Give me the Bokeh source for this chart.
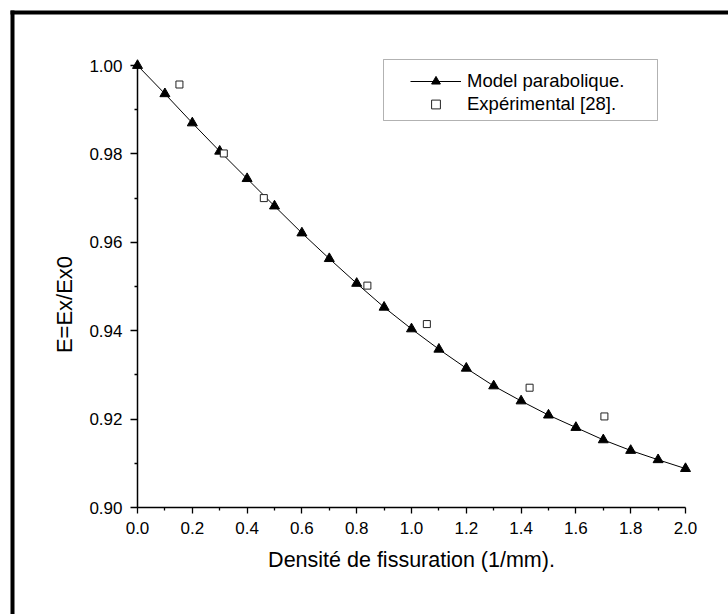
import math
from bokeh.plotting import figure
from bokeh.models import (Range1d, BoxAnnotation, Legend, LegendItem, FixedTicker,
                          NumeralTickFormatter, Label)
from bokeh.embed import file_html
from bokeh.resources import INLINE

# ---- data ----
x_model = [0.0, 0.1, 0.2, 0.3, 0.4, 0.5, 0.6, 0.7, 0.8, 0.9, 1.0,
           1.1, 1.2, 1.3, 1.4, 1.5, 1.6, 1.7, 1.8, 1.9, 2.0]
y_model = [1.0000, 0.9936, 0.9870, 0.9806, 0.9744, 0.9682, 0.9621, 0.9563,
           0.9507, 0.9453, 0.9404, 0.9358, 0.9315, 0.9275, 0.9241, 0.9209,
           0.9181, 0.9153, 0.9129, 0.9108, 0.9088]
x_exp = [0.153, 0.315, 0.461, 0.839, 1.056, 1.431, 1.704]
y_exp = [0.9957, 0.9801, 0.9700, 0.9502, 0.9415, 0.9271, 0.9206]

x_ticks = [0.0, 0.2, 0.4, 0.6, 0.8, 1.0, 1.2, 1.4, 1.6, 1.8, 2.0]
x_minor = [0.1, 0.3, 0.5, 0.7, 0.9, 1.1, 1.3, 1.5, 1.7, 1.9]
y_ticks = [0.90, 0.92, 0.94, 0.96, 0.98, 1.00]
y_minor = [0.91, 0.93, 0.95, 0.97, 0.99]

label_model = "Model parabolique."
label_exp = "Expérimental [28]."
x_title = "Densité de fissuration (1/mm)."
y_title = "E=Ex/Ex0"

FONT = "Liberation Sans"

# the plotting frame covers the whole canvas; axes sit at fixed data locations
p = figure(width=728, height=614,
           x_range=Range1d(-0.5, 2.156934), y_range=Range1d(0.875792, 1.014706),
           output_backend="svg", toolbar_location=None,
           min_border_left=0, min_border_right=0,
           min_border_top=0, min_border_bottom=0)
p.outline_line_color = None
p.grid.visible = False
p.background_fill_color = "white"
p.border_fill_color = "white"

# outer frame (top and left edges visible)
for l, r, t, b in ((10, 728, 10, 14), (10, 14, 10, 614)):
    p.add_layout(BoxAnnotation(left=l, right=r, top=t, bottom=b,
                               left_units="canvas", right_units="canvas",
                               top_units="canvas", bottom_units="canvas",
                               fill_color="black", fill_alpha=1, line_color=None))
# legend box
p.add_layout(BoxAnnotation(left=383, right=657, top=59, bottom=120,
                           left_units="canvas", right_units="canvas",
                           top_units="canvas", bottom_units="canvas",
                           fill_color="white", fill_alpha=1,
                           line_color="black", line_width=1, level="underlay"))

line_r = p.line(x_model, y_model, line_color="black", line_width=1)
tri_r = p.scatter(x_model, y_model, marker="triangle", size=10,
                  fill_color="black", line_color="black")
sq_r = p.scatter(x_exp, y_exp, marker="square", size=7,
                 fill_color="white", line_color="#222222", line_width=1)

# axes
for ax in (p.xaxis[0], p.yaxis[0]):
    ax.axis_line_width = 1.5
    ax.major_tick_line_width = 1.3
    ax.minor_tick_line_width = 1.3
    ax.major_tick_in = 0
    ax.minor_tick_in = 0
    ax.minor_tick_out = 3
    ax.major_label_standoff = 8
    ax.major_label_text_font = FONT
    ax.major_label_text_font_size = "17px"
    ax.major_label_text_color = "black"

p.xaxis.ticker = FixedTicker(ticks=x_ticks, minor_ticks=x_minor)
p.yaxis.ticker = FixedTicker(ticks=y_ticks, minor_ticks=y_minor)
p.xaxis.formatter = NumeralTickFormatter(format="0.0")
p.yaxis.formatter = NumeralTickFormatter(format="0.00")
p.xaxis.major_tick_out = 6
p.yaxis.major_tick_out = 7
p.xaxis.bounds = (0.0, 2.0)
p.yaxis.bounds = (0.90, 1.00)
p.yaxis.fixed_location = 0.0
p.xaxis.fixed_location = 0.90

# axis titles
p.add_layout(Label(x=411, y=559, x_units="canvas", y_units="canvas", text=x_title,
                   text_align="center", text_baseline="alphabetic",
                   text_font=FONT, text_font_size="21.5px", text_color="black"))
p.add_layout(Label(x=64, y=304, x_units="canvas", y_units="canvas", text=y_title,
                   angle=math.pi / 2, text_align="center", text_baseline="alphabetic",
                   text_font=FONT, text_font_size="22px", text_color="black"))

legend = Legend(items=[LegendItem(label=label_model, renderers=[line_r, tri_r]),
                       LegendItem(label=label_exp, renderers=[sq_r])],
                location=(410, 499), padding=0, margin=0,
                border_line_color=None, background_fill_alpha=0,
                glyph_width=51, glyph_height=22, label_height=22,
                label_standoff=6, spacing=1,
                label_text_font=FONT, label_text_font_size="18.5px",
                label_text_color="black")
p.add_layout(legend)

open("out.html", "w").write(file_html(p, INLINE))
